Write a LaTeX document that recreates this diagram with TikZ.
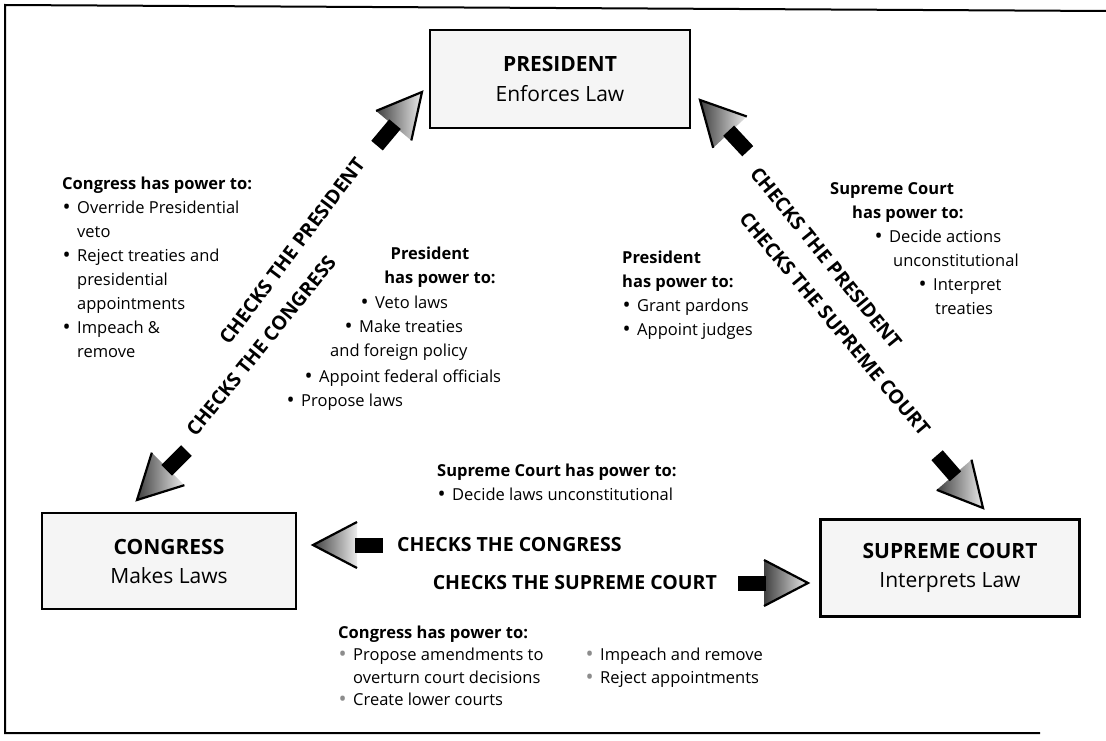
\documentclass[tikz,border=0pt]{standalone}
\usepackage{fontspec}
\setmainfont{Open Sans}
\usetikzlibrary{positioning}

\newcommand{\bul}{\makebox[15pt][l]{\hspace{0.5pt}\raisebox{-1.3pt}{\scalebox{1.3}{\textbullet}}}}
\newcommand{\gbul}{\makebox[15pt][l]{\hspace{0.5pt}\raisebox{-1.3pt}{\textcolor{black!45}{\scalebox{1.3}{\textbullet}}}}}
\newcommand{\hang}{\hspace*{15pt}}

\tikzset{
	branch/.style={draw, line width=2.4pt, fill=black!4, inner sep=0pt, align=center,
		font=\fontsize{21}{29}\selectfont},
	power/.style={inner sep=0pt, align=left, anchor=base west, font=\fontsize{16.5}{24}\selectfont},
	checks/.style={inner sep=0pt, font=\bfseries\fontsize{19.5}{19.5}\selectfont},
	blockarrow/.pic={
		\shade[left color=black!75, right color=black!8] (0,0) -- (-44,23) -- (-44,-23) -- cycle;
		\fill[black] (-70,-7.5) rectangle (-42,7.5);
		\draw[line width=2.2pt, line join=miter] (-44,23) -- (0,0) -- (-44,-23);
	}
}

\begin{document}
\begin{tikzpicture}[x=1pt,y=-1pt]
	\useasboundingbox (0,0) rectangle (1106,741);
	\draw[line width=2pt] (1106,11) -- (5,5) -- (5,733) -- (1040,733);

	% the three branches
	\node[branch, minimum width=260pt, minimum height=98pt] (pres) at (560,79)
		{\textbf{PRESIDENT}\\Enforces Law};
	\node[branch, minimum width=254pt, minimum height=96pt] (cong) at (169,561)
		{\textbf{CONGRESS}\\Makes Laws};
	\node[branch, minimum width=259pt, minimum height=97pt] (court) at (950,568)
		{\textbf{SUPREME COURT}\\Interprets Law};

	% arrow ends
	\coordinate (presL) at (422,92);
	\coordinate (congT) at (137,500);
	\coordinate (presR) at (700,100);
	\coordinate (courtT) at (983,508);
	\coordinate (congR) at (313,545);
	\coordinate (courtL) at (808,583);
	\pic[rotate=50] at (presL) {blockarrow};
	\pic[rotate=225] at (congT) {blockarrow};
	\pic[rotate=133] at (presR) {blockarrow};
	\pic[rotate=-49] at (courtT) {blockarrow};
	\pic[rotate=180] at (congR) {blockarrow};
	\pic at (courtL) {blockarrow};

	\node[checks, rotate=53] (cpL) at (292,251) {CHECKS THE PRESIDENT};
	\node[checks, rotate=51] (ccL) at (261,346) {CHECKS THE CONGRESS};
	\node[checks, rotate=-51] (cpR) at (826,258) {CHECKS THE PRESIDENT};
	\node[checks, rotate=-50] (csR) at (835,324) {CHECKS THE SUPREME COURT};
	\node[checks, anchor=west] (ccB) at (397,545) {CHECKS THE CONGRESS};
	\node[checks, anchor=east] (csB) at (717,583) {CHECKS THE SUPREME COURT};

	% powers (base = last line)
	\node[power] (congPres) at (62,357) {\textbf{Congress has power to:}\\
		\bul Override Presidential\\ \hang veto\\
		\bul Reject treaties and\\ \hang presidential\\ \hang appointments\\
		\bul Impeach \&\\ \hang remove};

	\node[power, anchor=base] (pc1) at (430,259) {\textbf{President}};
	\node[power, anchor=base] (pc2) at (440,283) {\textbf{has power to:}};
	\node[power] (pc3) at (360,308) {\bul Veto laws};
	\node[power] (pc4) at (344,332) {\bul Make treaties};
	\node[power] (pc5) at (330,356) {and foreign policy};
	\node[power] (pc6) at (304,382) {\bul Appoint federal officials};
	\node[power] (pc7) at (286,406) {\bul Propose laws};

	\node[power] (presCourt) at (622,335) {\textbf{President}\\ \textbf{has power to:}\\
		\bul Grant pardons\\ \bul Appoint judges};

	\node[power] (courtPres) at (830,314) {\textbf{Supreme Court}\\
		\hspace*{22pt}\textbf{has power to:}\\
		\hspace*{44pt}\bul Decide actions\\
		\hspace*{63pt}unconstitutional\\
		\hspace*{88pt}\bul Interpret\\
		\hspace*{105pt}treaties};

	\node[power] (courtCong) at (437,500) {\textbf{Supreme Court has power to:}\\
		\bul Decide laws unconstitutional};

	\node[power, font=\fontsize{16.5}{22.5}\selectfont] (congCourt) at (338,705.5)
		{\textbf{Congress has power to:}\\
		\gbul Propose amendments to\\ \hang overturn court decisions\\
		\gbul Create lower courts};
	\node[power, font=\fontsize{16.5}{22.5}\selectfont] (congCourt2) at (585,683)
		{\gbul Impeach and remove\\ \gbul Reject appointments};
\end{tikzpicture}
\end{document}
